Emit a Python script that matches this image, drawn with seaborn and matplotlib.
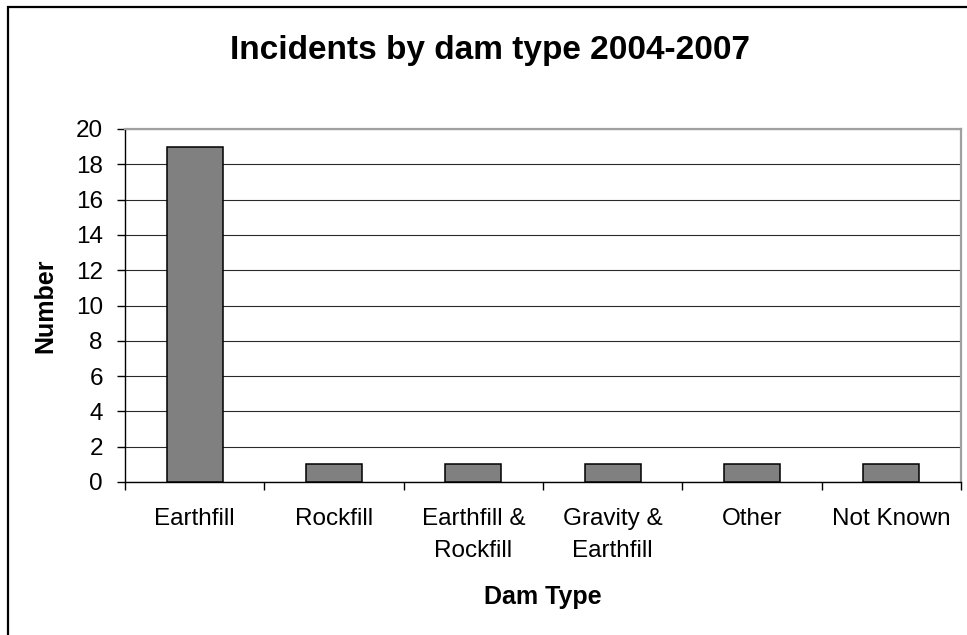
import matplotlib
matplotlib.use("Agg")
import matplotlib.pyplot as plt
from matplotlib.patches import Rectangle
import seaborn as sns
import pandas as pd

# Incident counts per dam type
dam_types = ["Earthfill", "Rockfill", "Earthfill &\nRockfill", "Gravity &\nEarthfill", "Other", "Not Known"]
incidents = [19, 1, 1, 1, 1, 1]
y_ticks = [0, 2, 4, 6, 8, 10, 12, 14, 16, 18, 20]

df = pd.DataFrame({"Dam Type": dam_types, "Number": incidents})

sns.set_theme(style="white")
plt.rcParams["font.family"] = ["Liberation Sans", "DejaVu Sans"]

fig = plt.figure(figsize=(9.67, 6.35), dpi=100)
ax = fig.add_axes([125 / 967, 1 - 482 / 635, 836 / 967, 353 / 635])

sns.barplot(data=df, x="Dam Type", y="Number", color="#808080", saturation=1,
            edgecolor="black", linewidth=1.1, width=0.4, ax=ax, zorder=3)

ax.set_ylim(0, 20)
ax.set_xlim(-0.5, len(dam_types) - 0.5)
ax.set_yticks(y_ticks)
ax.set_yticklabels([str(v) for v in y_ticks])

# horizontal gridlines
ax.yaxis.grid(True, color="#2a2a2a", linewidth=0.8, zorder=0)
ax.set_axisbelow(True)

# category labels centred; boundary ticks between categories
ax.set_xticks(range(len(dam_types)))
ax.set_xticklabels(dam_types, linespacing=1.55)
ax.set_xticks([i - 0.5 for i in range(len(dam_types) + 1)], minor=True)
ax.tick_params(axis="x", which="major", length=0, pad=19, labelsize=17.5, colors="black")
ax.tick_params(axis="x", which="minor", length=6, width=1, color="black", direction="out", bottom=True)
ax.tick_params(axis="y", which="major", length=6, width=1, color="black", direction="out",
               left=True, pad=10, labelsize=17.5, labelcolor="black")

for side in ("left", "bottom"):
    ax.spines[side].set_color("black")
    ax.spines[side].set_linewidth(1.0)
for side in ("top", "right"):
    ax.spines[side].set_color("#a0a0a0")
    ax.spines[side].set_linewidth(1.6)
    ax.spines[side].set_visible(True)

ax.set_xlabel("Dam Type", fontsize=18, fontweight="bold", color="black")
ax.set_ylabel("Number", fontsize=18, fontweight="bold", color="black")
ax.xaxis.set_label_coords(0.5, (482 - 597) / 353)
ax.xaxis.label.set_va("center")
ax.yaxis.set_label_coords((45 - 125) / 836, 0.5)
ax.yaxis.label.set_va("center")

fig.text(490 / 967, 1 - 51 / 635, "Incidents by dam type 2004-2007",
         ha="center", va="center", fontsize=24, fontweight="bold", color="black")

# chart frame
fig.add_artist(Rectangle((7.5 / 967, -0.2), 2.0, 1.2 - 7 / 635,
                         transform=fig.transFigure, fill=False, edgecolor="black", linewidth=1.6))

fig.savefig("out.png", dpi=100, facecolor="white")
